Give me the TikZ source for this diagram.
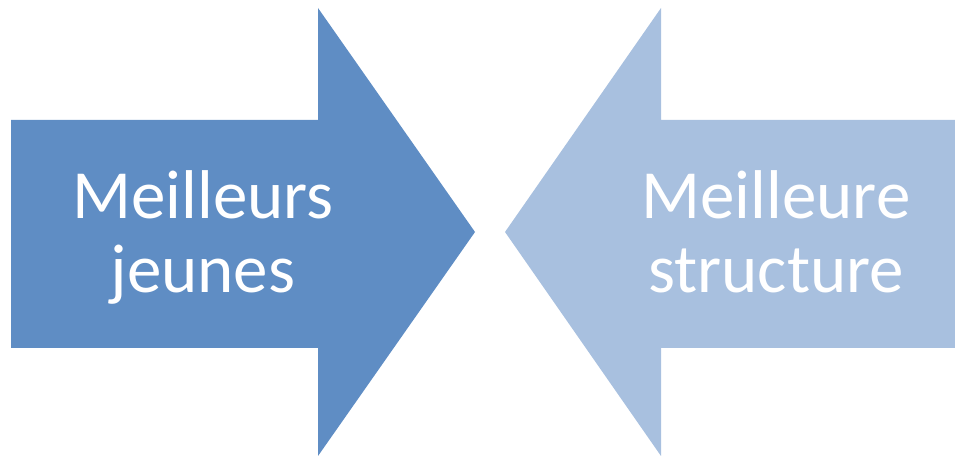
\documentclass[tikz,border=0pt]{standalone}
\usepackage{fontspec}
\setmainfont{Carlito}
\usetikzlibrary{positioning}
\definecolor{darkblue}{HTML}{5F8DC4}
\definecolor{lightblue}{HTML}{A8C0DF}
\begin{document}
\begin{tikzpicture}[x=1pt, y=1pt,
	arrowtxt/.style={text=white, align=center, font=\fontsize{69}{74}\selectfont}]
	\useasboundingbox (0,0) rectangle (955,457);
	% left arrow
	\fill[darkblue] (11,337) -- (318,337) -- (318,449) -- (475,225) -- (318,1) -- (318,109) -- (11,109) -- cycle;
	\node[arrowtxt] (jeunes) at (203,220) {Meilleurs\\jeunes};
	% right arrow
	\fill[lightblue] (955,337) -- (661,337) -- (661,449) -- (505,225) -- (661,1) -- (661,109) -- (955,109) -- cycle;
	\node[arrowtxt] (structure) at (776,225) {Meilleure\\structure};
\end{tikzpicture}
\end{document}
